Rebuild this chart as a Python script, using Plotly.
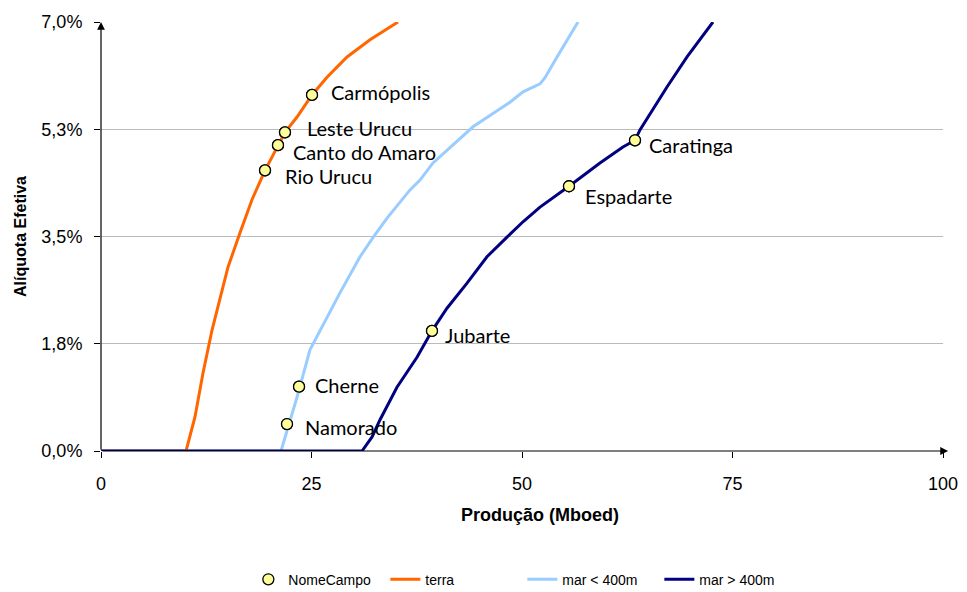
import plotly.graph_objects as go

# Data (x in Mboed, y in %)
terra_x = [0, 10.1, 11.16, 12.11, 13.18, 15.08, 16.51, 17.93, 19.48, 21.02, 21.85, 23.28, 25.06, 26.84, 29.22, 31.95, 35.27]
terra_y = [0, 0, 0.555, 1.27, 1.97, 3.00, 3.56, 4.10, 4.58, 4.99, 5.20, 5.45, 5.81, 6.10, 6.43, 6.71, 7.0]

mar1_x = [0, 21.38, 23.28, 24.82, 28.38, 30.76, 32.30, 33.97, 36.70, 37.89, 39.43, 44.18, 48.57, 50.12, 52.14, 52.73, 54.16, 56.65]
mar1_y = [0, 0, 0.88, 1.65, 2.58, 3.17, 3.48, 3.80, 4.26, 4.42, 4.70, 5.29, 5.69, 5.86, 5.99, 6.09, 6.43, 7.0]

mar2_x = [0, 31.0, 32.19, 33.14, 35.15, 37.53, 39.31, 41.09, 43.47, 45.84, 48.22, 50.12, 52.14, 55.58, 59.26, 61.99, 63.42, 64.01, 67.22, 69.60, 72.68]
mar2_y = [0, 0, 0.23, 0.51, 1.04, 1.53, 1.96, 2.33, 2.74, 3.17, 3.49, 3.74, 3.98, 4.32, 4.70, 4.96, 5.07, 5.24, 5.94, 6.43, 7.0]

campos = ["Carmópolis", "Leste Urucu", "Canto do Amaro", "Rio Urucu", "Cherne", "Namorado", "Jubarte", "Espadarte", "Caratinga"]
campos_x = [25.06, 21.85, 21.02, 19.48, 23.52, 22.09, 39.31, 55.58, 63.42]
campos_y = [5.81, 5.20, 4.99, 4.58, 1.05, 0.44, 1.96, 4.32, 5.07]

y_ticks = [0, 1.75, 3.5, 5.25, 7.0]
y_ticktext = ["0,0%", "1,8%", "3,5%", "5,3%", "7,0%"]
x_ticks = [0, 25, 50, 75, 100]

x_title = "Produção (Mboed)"
y_title = "Alíquota Efetiva"

# label placement (pixel shifts), style only
LABEL_SHIFT = {
    "Carmópolis": (17, -3), "Leste Urucu": (20, -4), "Canto do Amaro": (13, 7),
    "Rio Urucu": (18, 6), "Cherne": (14, -2), "Namorado": (16, 3),
    "Jubarte": (11, 4), "Espadarte": (14, 10), "Caratinga": (12, 5),
}

AXFONT = "Liberation Sans, Arial, sans-serif"
MARKER = dict(size=11, color="#FFFF99", line=dict(color="black", width=1.3))

fig = go.Figure()
fig.add_trace(go.Scatter(x=campos_x, y=campos_y, mode="markers", name="NomeCampo", marker=MARKER))
fig.add_trace(go.Scatter(x=terra_x, y=terra_y, mode="lines", name="terra",
                         line=dict(color="#FF6600", width=3)))
fig.add_trace(go.Scatter(x=mar1_x, y=mar1_y, mode="lines", name="mar < 400m",
                         line=dict(color="#99CCFF", width=3)))
fig.add_trace(go.Scatter(x=mar2_x, y=mar2_y, mode="lines", name="mar > 400m",
                         line=dict(color="#000080", width=3)))
fig.add_trace(go.Scatter(x=campos_x, y=campos_y, mode="markers", showlegend=False, marker=MARKER))

for name, cx, cy in zip(campos, campos_x, campos_y):
    dx, dy = LABEL_SHIFT[name]
    fig.add_annotation(x=cx, y=cy, text=name, showarrow=False, xanchor="left", yanchor="middle",
                       xshift=dx, yshift=-dy, font=dict(family="Lato, Carlito, sans-serif", size=20, color="black"))

# x axis title (slightly right of the plot centre, as in the original)
fig.add_annotation(x=0.521, y=-0.149, xref="paper", yref="paper", text="<b>" + x_title + "</b>",
                   showarrow=False, xanchor="center", yanchor="middle",
                   font=dict(family=AXFONT, size=18, color="black"))

# axis arrows
fig.add_annotation(x=0, y=7.0, ax=0, ay=0, xref="x", yref="y", axref="x", ayref="y",
                   showarrow=True, arrowhead=2, arrowsize=1.3, arrowwidth=1.2, arrowcolor="black", text="")
fig.add_annotation(x=100.6, y=0, ax=0, ay=0, xref="x", yref="y", axref="x", ayref="y",
                   showarrow=True, arrowhead=2, arrowsize=1.3, arrowwidth=1.2, arrowcolor="black", text="")

fig.update_layout(
    width=967, height=592,
    margin=dict(l=101, r=24, t=22, b=141, autoexpand=False),
    plot_bgcolor="white", paper_bgcolor="white",
    showlegend=True,
    legend=dict(orientation="h", x=0.175, xanchor="left", y=-0.30, yanchor="middle",
                font=dict(family=AXFONT, size=14, color="black"), entrywidth=92),
    xaxis=dict(range=[0, 100], tickvals=x_ticks, showgrid=False, zeroline=False,
               ticks="outside", ticklen=6, tickcolor="black", showline=False, automargin=False,
               ticklabelstandoff=10,
               tickfont=dict(family=AXFONT, size=18, color="black")),
    yaxis=dict(range=[0, 7.0], tickvals=y_ticks, ticktext=y_ticktext, showgrid=True,
               gridcolor="#BBBBBB", gridwidth=1, zeroline=False,
               ticks="outside", ticklen=6, tickcolor="black", showline=False, automargin=False,
               ticklabelstandoff=8,
               tickfont=dict(family=AXFONT, size=18, color="black"),
               title=dict(text="<b>" + y_title + "</b>", font=dict(family=AXFONT, size=16, color="black"), standoff=10)),
)

fig.write_html("out.html", config={"displayModeBar": False},
               post_script="document.body.style.margin='0';")
